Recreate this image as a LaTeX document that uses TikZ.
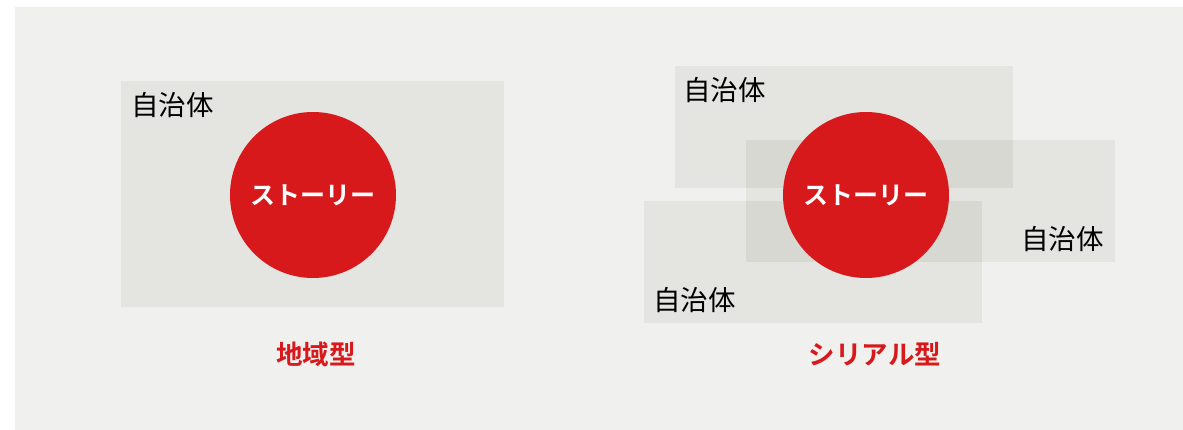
\documentclass[tikz,border=0pt]{standalone}
\usepackage{fontspec}
\newfontfamily\jp{Noto Sans CJK JP}
\newfontfamily\jpb{Noto Sans CJK JP Bold}
\definecolor{pagebg}{RGB}{255,255,255}
\definecolor{panel}{RGB}{240,240,238}
\definecolor{storyred}{RGB}{215,25,28}
\definecolor{shade}{RGB}{40,40,0}
\tikzset{
  area/.style={fill=shade, fill opacity=0.06, draw=none},
  story/.style={circle, fill=storyred, draw=none, minimum size=166pt, inner sep=0pt,
    font=\jpb\fontsize{25}{25}\selectfont, text=white},
  jlabel/.style={font=\jp\fontsize{27.5}{27.5}\selectfont, text=black, inner sep=0pt},
  typelabel/.style={font=\jpb\fontsize{26.5}{26.5}\selectfont, text=storyred, inner sep=0pt}
}
\begin{document}
\begin{tikzpicture}[x=1pt,y=-1pt]
\useasboundingbox (0,0) rectangle (1183,430);
\fill[pagebg] (0,0) rectangle (1183,430);
\fill[panel] (15,7) rectangle (1183,430);
% left: regional type
\path[area] (121,81) rectangle (504,307);
\node[jlabel, anchor=north west] (jl) at (131,92) {自治体};
\node[story] (sl) at (313,195) {ストーリー};
\node[typelabel] (tl) at (316,354) {地域型};
% right: serial type
\path[area] (675,66) rectangle (1013,188);
\path[area] (746,140) rectangle (1115,262);
\path[area] (644,201) rectangle (982,323);
\node[jlabel, anchor=north west] (j1) at (683,77) {自治体};
\node[jlabel, anchor=north east] (j2) at (1104,226) {自治体};
\node[jlabel, anchor=north west] (j3) at (653,287) {自治体};
\node[story] (sr) at (866,195) {ストーリー};
\node[typelabel] (tr) at (875,354) {シリアル型};
\end{tikzpicture}
\end{document}
